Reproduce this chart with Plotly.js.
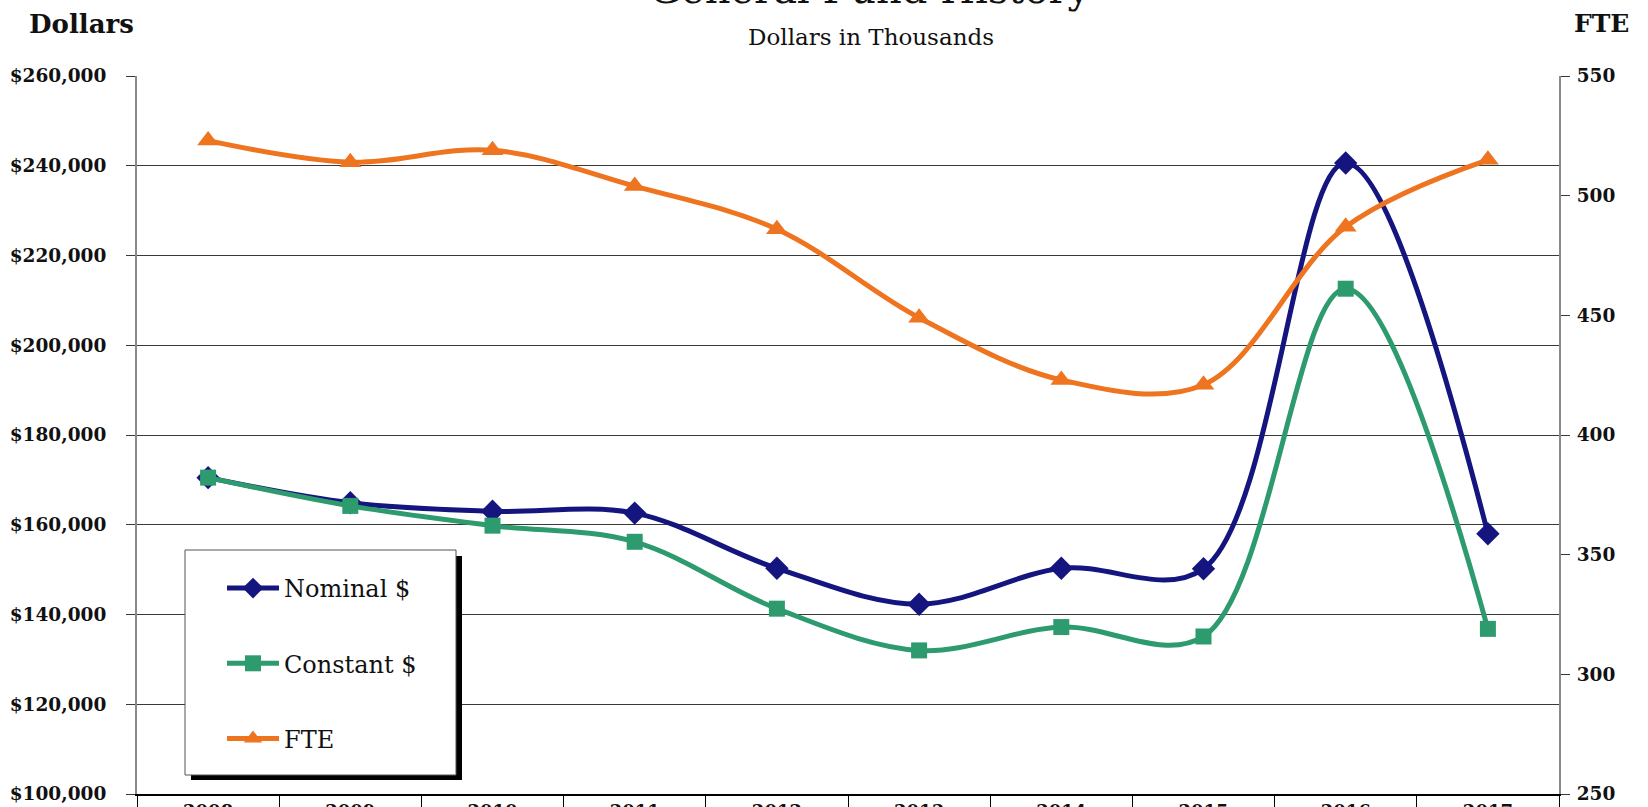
<!DOCTYPE html>
<html>
<head>
<meta charset="utf-8">
<script src="https://cdn.plot.ly/plotly-3.0.1.min.js"></script>
<style>html,body{margin:0;padding:0;background:#fff;}#chart{width:1648px;height:807px;}</style>
</head>
<body>
<div id="chart"></div>
<script>
// ---- data ----
const years = ['2008','2009','2010','2011','2012','2013','2014','2015','2016','2017'];
const nominal = [170500, 164900, 163000, 162600, 150300, 142300, 150300, 150200, 240600, 158000];
const constant = [170500, 164200, 159800, 156200, 141300, 132000, 137200, 135100, 212600, 136800];
const fte = [523, 514, 519, 504, 486, 449, 423, 421, 487, 515];
const seriesNames = ['Nominal $', 'Constant $', 'FTE'];
const leftTicks = [100000, 120000, 140000, 160000, 180000, 200000, 220000, 240000, 260000];
const rightTicks = [250, 300, 350, 400, 450, 500, 550];

const serif = 'DejaVu Serif, Liberation Serif, serif';
const ink = '#111111';

const traces = [
  {x: years, y: nominal, name: seriesNames[0], type: 'scatter', mode: 'lines+markers', yaxis: 'y',
   legendgroup: 'a', line: {color: '#15157f', width: 5, shape: 'spline', smoothing: 1},
   marker: {symbol: 'diamond', size: 18, color: '#15157f'}},
  {x: years, y: constant, name: seriesNames[1], type: 'scatter', mode: 'lines+markers', yaxis: 'y',
   legendgroup: 'b', line: {color: '#2e9b6e', width: 5, shape: 'spline', smoothing: 1},
   marker: {symbol: 'square', size: 16, color: '#2e9b6e'}},
  {x: years, y: fte, name: seriesNames[2], type: 'scatter', mode: 'lines+markers', yaxis: 'y2',
   legendgroup: 'c', line: {color: '#ee7420', width: 5, shape: 'spline', smoothing: 1},
   marker: {symbol: 'triangle-up', size: 19, color: '#ee7420'}}
];

const L = 137, R = 89, T = 76, B = 13, W = 1648, H = 807;
const pw = W - L - R, ph = H - T - B;
const px = v => (v - L) / pw;          // pixel x -> paper x
const py = v => (H - B - v) / ph;      // pixel y -> paper y

const layout = {
  width: W, height: H,
  margin: {l: L, r: R, t: T, b: B, pad: 0},
  paper_bgcolor: '#ffffff', plot_bgcolor: '#ffffff',
  font: {family: serif, color: ink},
  showlegend: true,
  legend: {
    x: px(222), y: py(566), xanchor: 'left', yanchor: 'top',
    bgcolor: 'rgba(0,0,0,0)', borderwidth: 0,
    font: {family: serif, size: 24, color: ink},
    traceorder: 'grouped', tracegroupgap: 41, itemwidth: 52
  },
  xaxis: {
    type: 'category', categoryarray: years, range: [-0.5, 9.5],
    showgrid: false, zeroline: false,
    showline: true, linecolor: '#000', linewidth: 2,
    ticks: 'outside', tickson: 'boundaries', ticklen: 30, tickcolor: '#000', tickwidth: 1,
    ticklabelstandoff: 0,
    tickfont: {family: serif, size: 18, color: ink, weight: 'bold'}
  },
  yaxis: {
    range: [100000, 260000], tickvals: leftTicks, tickformat: '$,.0f',
    showgrid: true, gridcolor: '#3a3a3a', gridwidth: 1, zeroline: false,
    showline: true, linecolor: '#8a8a8a', linewidth: 2,
    ticks: 'outside', ticklen: 9, tickcolor: '#3a3a3a', tickwidth: 1,
    ticklabelstandoff: 16,
    tickfont: {family: serif, size: 18.5, color: ink, weight: 'bold'}
  },
  yaxis2: {
    overlaying: 'y', side: 'right', range: [250, 550], tickvals: rightTicks,
    showgrid: false, zeroline: false,
    showline: true, linecolor: '#8a8a8a', linewidth: 2,
    ticks: 'outside', ticklen: 9, tickcolor: '#3a3a3a', tickwidth: 1,
    ticklabelstandoff: 3,
    tickfont: {family: serif, size: 18.5, color: ink, weight: 'bold'}
  },
  shapes: [
    {type: 'rect', xref: 'paper', yref: 'paper', layer: 'above',
     x0: px(191), x1: px(462), y0: py(780), y1: py(556),
     fillcolor: '#000', line: {width: 0}},
    {type: 'rect', xref: 'paper', yref: 'paper', layer: 'above',
     x0: px(185), x1: px(456), y0: py(775), y1: py(550),
     fillcolor: '#fff', line: {color: '#555', width: 1}}
  ],
  annotations: [
    {text: 'General Fund History', xref: 'paper', yref: 'paper', x: px(870), y: py(14),
     xanchor: 'center', yanchor: 'bottom', showarrow: false,
     font: {family: serif, size: 40, color: ink}},
    {text: 'Dollars in Thousands', xref: 'paper', yref: 'paper', x: px(871), y: py(37),
     xanchor: 'center', yanchor: 'middle', showarrow: false,
     font: {family: serif, size: 23, color: ink}},
    {text: '<b>Dollars</b>', xref: 'paper', yref: 'paper', x: px(27), y: py(24),
     xanchor: 'left', yanchor: 'middle', showarrow: false,
     font: {family: serif, size: 26, color: ink}},
    {text: '<b>FTE</b>', xref: 'paper', yref: 'paper', x: px(1572), y: py(24),
     xanchor: 'left', yanchor: 'middle', showarrow: false,
     font: {family: serif, size: 25, color: ink}}
  ]
};

Plotly.newPlot('chart', traces, layout, {displayModeBar: false, staticPlot: true});
</script>
</body>
</html>
